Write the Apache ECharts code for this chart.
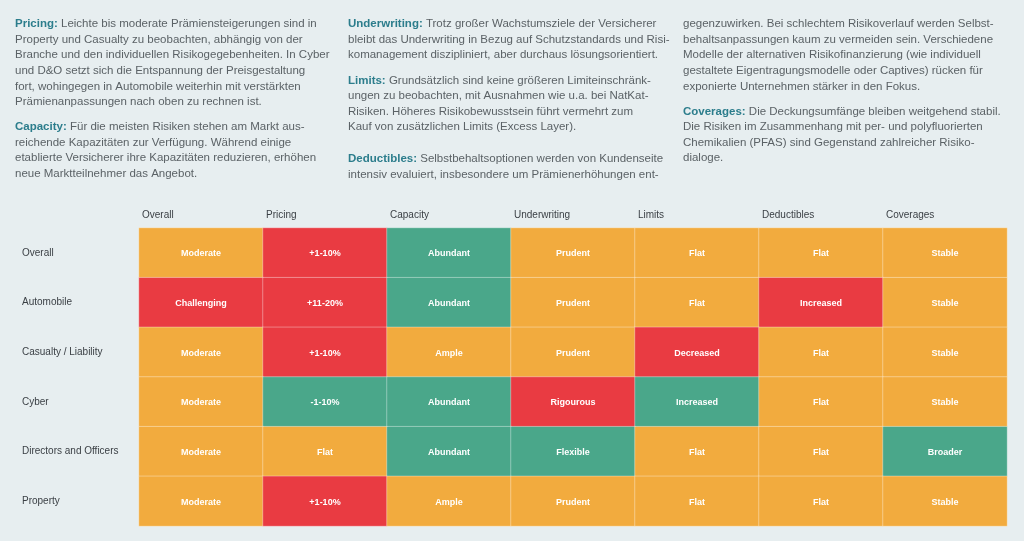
<!DOCTYPE html>
<html>
<head>
<meta charset="utf-8">
<script src="https://cdn.jsdelivr.net/npm/echarts@6/dist/echarts.min.js"></script>
<style>
html,body{margin:0;padding:0;background:#e7eef0;}
#main{width:1024px;height:541px;}
</style>
</head>
<body>
<div id="main"></div>
<script>
// ---- Data ----
const columns = ['Overall', 'Pricing', 'Capacity', 'Underwriting', 'Limits', 'Deductibles', 'Coverages'];
const rows = ['Overall', 'Automobile', 'Casualty / Liability', 'Cyber', 'Directors and Officers', 'Property'];
// level: 0 = green (favourable), 1 = orange, 2 = red
const levels = [
  [1, 2, 0, 1, 1, 1, 1],
  [2, 2, 0, 1, 1, 2, 1],
  [1, 2, 1, 1, 2, 1, 1],
  [1, 0, 0, 2, 0, 1, 1],
  [1, 1, 0, 0, 1, 1, 0],
  [1, 2, 1, 1, 1, 1, 1]
];
const cellLabels = [
  ['Moderate', '+1-10%', 'Abundant', 'Prudent', 'Flat', 'Flat', 'Stable'],
  ['Challenging', '+11-20%', 'Abundant', 'Prudent', 'Flat', 'Increased', 'Stable'],
  ['Moderate', '+1-10%', 'Ample', 'Prudent', 'Decreased', 'Flat', 'Stable'],
  ['Moderate', '-1-10%', 'Abundant', 'Rigourous', 'Increased', 'Flat', 'Stable'],
  ['Moderate', 'Flat', 'Abundant', 'Flexible', 'Flat', 'Flat', 'Broader'],
  ['Moderate', '+1-10%', 'Ample', 'Prudent', 'Flat', 'Flat', 'Stable']
];
// Text paragraphs (headings marked with {h|...})
const pPricing = [
  '{h|Pricing:} Leichte bis moderate Prämiensteigerungen sind in',
  'Property und Casualty zu beobachten, abhängig von der',
  'Branche und den individuellen Risikogegebenheiten. In Cyber',
  'und D&O setzt sich die Entspannung der Preisgestaltung',
  'fort, wohingegen in Automobile weiterhin mit verstärkten',
  'Prämienanpassungen nach oben zu rechnen ist.'
];
const pCapacity = [
  '{h|Capacity:} Für die meisten Risiken stehen am Markt aus-',
  'reichende Kapazitäten zur Verfügung. Während einige',
  'etablierte Versicherer ihre Kapazitäten reduzieren, erhöhen',
  'neue Marktteilnehmer das Angebot.'
];
const pUnderwriting = [
  '{h|Underwriting:} Trotz großer Wachstumsziele der Versicherer',
  'bleibt das Underwriting in Bezug auf Schutzstandards und Risi-',
  'komanagement diszipliniert, aber durchaus lösungsorientiert.'
];
const pLimits = [
  '{h|Limits:} Grundsätzlich sind keine größeren Limiteinschränk-',
  'ungen zu beobachten, mit Ausnahmen wie u.a. bei NatKat-',
  'Risiken. Höheres Risikobewusstsein führt vermehrt zum',
  'Kauf von zusätzlichen Limits (Excess Layer).'
];
const pDeductibles = [
  '{h|Deductibles:} Selbstbehaltsoptionen werden von Kundenseite',
  'intensiv evaluiert, insbesondere um Prämienerhöhungen ent-',
  'gegenzuwirken. Bei schlechtem Risikoverlauf werden Selbst-',
  'behaltsanpassungen kaum zu vermeiden sein. Verschiedene',
  'Modelle der alternativen Risikofinanzierung (wie individuell',
  'gestaltete Eigentragungsmodelle oder Captives) rücken für',
  'exponierte Unternehmen stärker in den Fokus.'
];
const pCoverages = [
  '{h|Coverages:} Die Deckungsumfänge bleiben weitgehend stabil.',
  'Die Risiken im Zusammenhang mit per- und polyfluorierten',
  'Chemikalien (PFAS) sind Gegenstand zahlreicher Risiko-',
  'dialoge.'
];

// ---- Build ----
const heatData = [];
rows.forEach((r, yi) => {
  columns.forEach((c, xi) => {
    heatData.push([xi, yi, levels[yi][xi], cellLabels[yi][xi]]);
  });
});

const FONT = '"Liberation Sans", Arial, Helvetica, sans-serif';
const BODY = '#5b6266';
const HEAD = '#2c7d8c';
const LH = 15.6;
const FS = 11.5;

function para(lines, x, y0) {
  return lines.map((ln, i) => ({
    type: 'text', x: x, y: y0 + i * LH,
    style: {
      text: ln, font: FS + 'px ' + FONT, fill: BODY, verticalAlign: 'middle',
      rich: { h: { fontWeight: 'bold', fill: HEAD, fontSize: FS, fontFamily: FONT } }
    }
  }));
}

// Deductibles paragraph flows from column 2 (2 lines) into column 3
const graphics = []
  .concat(para(pPricing, 15, 24))
  .concat(para(pCapacity, 15, 127))
  .concat(para(pUnderwriting, 348, 24))
  .concat(para(pLimits, 348, 80.5))
  .concat(para(pDeductibles.slice(0, 2), 348, 159))
  .concat(para(pDeductibles.slice(2), 683, 24))
  .concat(para(pCoverages, 683, 111.5));

const chart = echarts.init(document.getElementById('main'), null, { renderer: 'canvas' });
chart.setOption({
  backgroundColor: '#e7eef0',
  animation: false,
  textStyle: { fontFamily: FONT },
  grid: { left: 139, top: 228, width: 868, height: 298 },
  xAxis: {
    type: 'category', data: columns, position: 'top',
    axisLine: { show: false }, axisTick: { show: false }, splitLine: { show: false },
    axisLabel: {
      margin: 8, color: '#3a3f44', fontSize: 10, fontFamily: FONT,
      formatter: v => '{a|' + v + '}',
      rich: { a: { width: 118, align: 'left', fontSize: 10, color: '#3a3f44', fontFamily: FONT } }
    }
  },
  yAxis: {
    type: 'category', data: rows, inverse: true,
    axisLine: { show: false }, axisTick: { show: false }, splitLine: { show: false },
    axisLabel: { align: 'left', margin: 117, color: '#3a3f44', fontSize: 10, fontFamily: FONT }
  },
  visualMap: {
    show: false, type: 'piecewise', dimension: 2,
    pieces: [
      { value: 0, color: '#4aa78a' },
      { value: 1, color: '#f2ab3e' },
      { value: 2, color: '#e93b42' }
    ]
  },
  series: [{
    type: 'heatmap', data: heatData,
    itemStyle: { borderColor: 'rgba(255,255,255,0.35)', borderWidth: 1 },
    label: {
      show: true, color: '#ffffff', fontWeight: 'bold', fontSize: 9, fontFamily: FONT,
      offset: [0, 1],
      formatter: p => p.data[3]
    },
    emphasis: { disabled: true }
  }],
  graphic: graphics
});
</script>
</body>
</html>
